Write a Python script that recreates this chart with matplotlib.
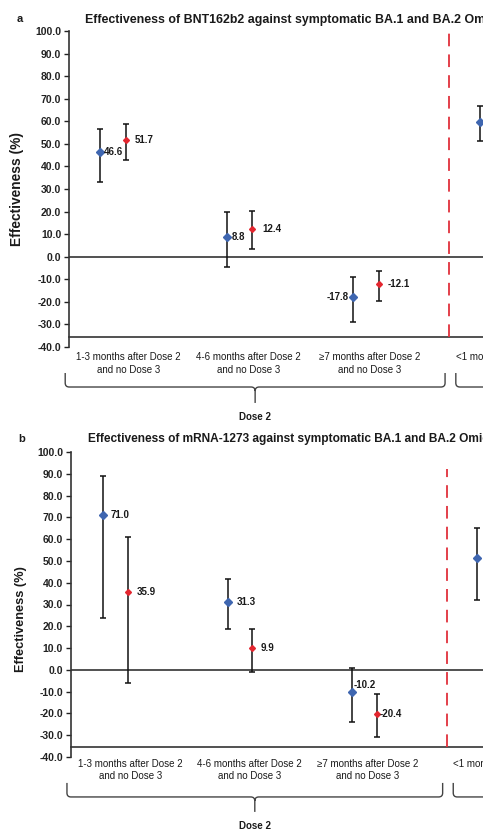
import matplotlib
matplotlib.use('Agg')
import matplotlib.pyplot as plt
import matplotlib.transforms as mtransforms
from matplotlib.path import Path
from matplotlib.patches import PathPatch

plt.rcParams['font.family'] = ['Liberation Sans', 'DejaVu Sans']

# ---------------- data ----------------
categories = ["1-3 months after Dose 2\nand no Dose 3",
              "4-6 months after Dose 2\nand no Dose 3",
              "\u22657 months after Dose 2\nand no Dose 3",
              "<1 month after Dose 3"]
group_label = "Dose 2"
title_a = "Effectiveness of BNT162b2 against symptomatic BA.1 and BA.2 Omicron infection"
title_b = "Effectiveness of mRNA-1273 against symptomatic BA.1 and BA.2 Omicron infection"
ylabel = "Effectiveness (%)"
yticks = list(range(-40, 101, 10))

# Panel a (BNT162b2): blue = BA.1, red = BA.2
a_ba1 = [46.6, 8.8, -17.8, 59.7]
a_ba1_lo = [33.0, -4.4, -29.0, 51.2]
a_ba1_hi = [56.8, 20.0, -8.9, 66.7]
a_ba2 = [51.7, 12.4, -12.1]
a_ba2_lo = [43.0, 3.4, -19.6]
a_ba2_hi = [59.0, 20.2, -6.2]

# Panel b (mRNA-1273)
b_ba1 = [71.0, 31.3, -10.2, 51.5]
b_ba1_lo = [23.7, 18.7, -24.0, 32.1]
b_ba1_hi = [89.1, 41.6, 1.0, 65.3]
b_ba2 = [35.9, 9.9, -20.4]
b_ba2_lo = [-6.1, -0.8, -30.6]
b_ba2_hi = [61.2, 18.7, -11.2]

# ---------------- style ----------------
BLUE = '#3f66b0'
RED = '#e3262f'
DASH = '#e0303c'
TXT = '#1a1a1a'
W, H = 483, 831

fig = plt.figure(figsize=(W / 100, H / 100), dpi=100)


def bracket(ax, x0, x1, ytop, yline, ybot, rx, ry):
    tr = mtransforms.blended_transform_factory(ax.transData, ax.transAxes)
    xc = (x0 + x1) / 2
    verts = [(x0, ytop), (x0, yline + ry), (x0, yline), (x0 + rx, yline),
             (xc - rx, yline), (xc, yline), (xc, yline - ry), (xc, ybot),
             (xc, yline - ry), (xc, yline), (xc + rx, yline),
             (x1 - rx, yline), (x1, yline), (x1, yline + ry), (x1, ytop)]
    codes = [Path.MOVETO, Path.LINETO, Path.CURVE3, Path.CURVE3,
             Path.LINETO, Path.CURVE3, Path.CURVE3, Path.LINETO,
             Path.MOVETO, Path.CURVE3, Path.CURVE3,
             Path.LINETO, Path.CURVE3, Path.CURVE3, Path.LINETO]
    p = PathPatch(Path(verts, codes), fill=False, edgecolor='#444444', lw=1.0,
                  transform=tr, clip_on=False)
    ax.add_patch(p)
    return xc


def panel(rect, xlim, ba1, ba1_lo, ba1_hi, ba2, ba2_lo, ba2_hi,
          off1, off2, dash_top, geom):
    ax = fig.add_axes(rect)
    ax.set_xlim(*xlim)
    ax.set_ylim(-40, 100)
    d = 0.1
    x1 = [i - d for i in range(len(ba1))]
    x2 = [i + d for i in range(len(ba2))]
    e1 = [[v - lo for v, lo in zip(ba1, ba1_lo)], [hi - v for v, hi in zip(ba1, ba1_hi)]]
    e2 = [[v - lo for v, lo in zip(ba2, ba2_lo)], [hi - v for v, hi in zip(ba2, ba2_hi)]]
    # reference lines
    ax.axhline(0, color='#222222', lw=1.1, zorder=1)
    ax.axhline(-35.5, color='#333333', lw=1.2, zorder=1, clip_on=False)
    ax.vlines(2.66, -35.5, dash_top, colors=DASH, linestyles=(0, (7, 4.5)), lw=1.3, zorder=1)
    ax.errorbar(x1, ba1, yerr=e1, fmt='none', ecolor='#111111', elinewidth=1.1,
                capsize=2.5, capthick=1.1, zorder=2)
    ax.errorbar(x2, ba2, yerr=e2, fmt='none', ecolor='#111111', elinewidth=1.1,
                capsize=2.5, capthick=1.1, zorder=2)
    ax.plot(x1, ba1, 'D', color=BLUE, ms=4.2, mec=BLUE, zorder=3, clip_on=False)
    ax.plot(x2, ba2, 'D', color=RED, ms=3.0, mec=RED, zorder=3)
    for i, (dx, dy, ha) in enumerate(off1):
        ax.annotate(f"{ba1[i]:.1f}", (x1[i], ba1[i]), xytext=(dx, dy),
                    textcoords='offset points', ha=ha, va='center', fontsize=7,
                    color=TXT, fontweight='bold')
    for i, (dx, dy, ha) in enumerate(off2):
        ax.annotate(f"{ba2[i]:.1f}", (x2[i], ba2[i]), xytext=(dx, dy),
                    textcoords='offset points', ha=ha, va='center', fontsize=7,
                    color=TXT, fontweight='bold')
    # axes styling
    for s in ['top', 'right', 'bottom']:
        ax.spines[s].set_visible(False)
    ax.spines['left'].set_color('#333333')
    ax.spines['left'].set_linewidth(1.2)
    ax.set_yticks(yticks)
    ax.set_yticklabels([f"{v:.1f}" for v in yticks], fontweight='bold')
    ax.tick_params(axis='y', direction='out', length=3.5, width=1.0, labelsize=7.5,
                   pad=2, colors='#222222')
    ax.set_xticks([])
    tr = mtransforms.blended_transform_factory(ax.transData, ax.transAxes)
    ytxt, ybt, ybl, ybb, ygl, ylab_x, ylab_y, ylab_fs, rx, ry = geom
    for i, lab in enumerate(categories[:3]):
        ax.text(0.12 + 0.953 * i, ytxt, lab, transform=tr, ha='center', va='top',
                fontsize=7.0, color=TXT, linespacing=1.3)
    ax.text(2.71, ytxt, categories[3], transform=tr, ha='left', va='top',
            fontsize=7.0, color=TXT, clip_on=False)
    xc = bracket(ax, xlim[0] - 0.03, 2.625, ybt, ybl, ybb, rx, ry)
    ax.text(xc, ygl, group_label, transform=tr, ha='center', va='center',
            fontsize=7, fontweight='bold', color=TXT)
    bracket(ax, 2.71, 5.5, ybt, ybl, ybb, rx, ry)
    ax.text(ylab_x, ylab_y, ylabel, transform=ax.transAxes, rotation=90,
            ha='center', va='center', fontsize=ylab_fs, fontweight='bold', color=TXT)
    return ax


# panel a geometry (pixels): axis x=69, y from 31 (100) to 347 (-40)
rect_a = [69 / W, 1 - 347 / H, (555.75 - 69) / W, 316 / H]
geom_a = (-0.017, -0.0823, -0.1266, -0.177, -0.2215, -0.107, 0.5, 9.9, 0.032, 0.0127)
ax_a = panel(rect_a, (-0.348, 3.5), a_ba1, a_ba1_lo, a_ba1_hi, a_ba2, a_ba2_lo, a_ba2_hi,
             [(2.2, 0, 'left'), (3.6, 0, 'left'), (-3.6, 0, 'right')],
             [(6.5, 0, 'left'), (7.2, 0, 'left'), (6.5, 0, 'left')], 100, geom_a)

rect_b = [70.7 / W, 1 - 757 / H, (551.75 - 70.7) / W, 305 / H]
geom_b = (-0.005, -0.085, -0.131, -0.180, -0.226, -0.103, 0.452, 9.2, 0.032, 0.013)
ax_b = panel(rect_b, (-0.358, 3.5), b_ba1, b_ba1_lo, b_ba1_hi, b_ba2, b_ba2_lo, b_ba2_hi,
             [(5.8, 0, 'left'), (6.5, 0, 'left'), (0.7, 5, 'left')],
             [(6.5, 0, 'left'), (5.8, 0, 'left'), (1.4, 0, 'left')], 92, geom_b)

fig.text(85 / W, 1 - 20 / H, title_a, ha='left', va='center', fontsize=8.9,
         fontweight='bold', color=TXT)
fig.text(88 / W, 1 - 439 / H, title_b, ha='left', va='center', fontsize=8.6,
         fontweight='bold', color=TXT)
fig.text(20 / W, 1 - 19 / H, "a", ha='center', va='center', fontsize=8,
         fontweight='bold', color=TXT)
fig.text(22 / W, 1 - 439 / H, "b", ha='center', va='center', fontsize=8,
         fontweight='bold', color=TXT)

fig.savefig('out.png', dpi=100)
